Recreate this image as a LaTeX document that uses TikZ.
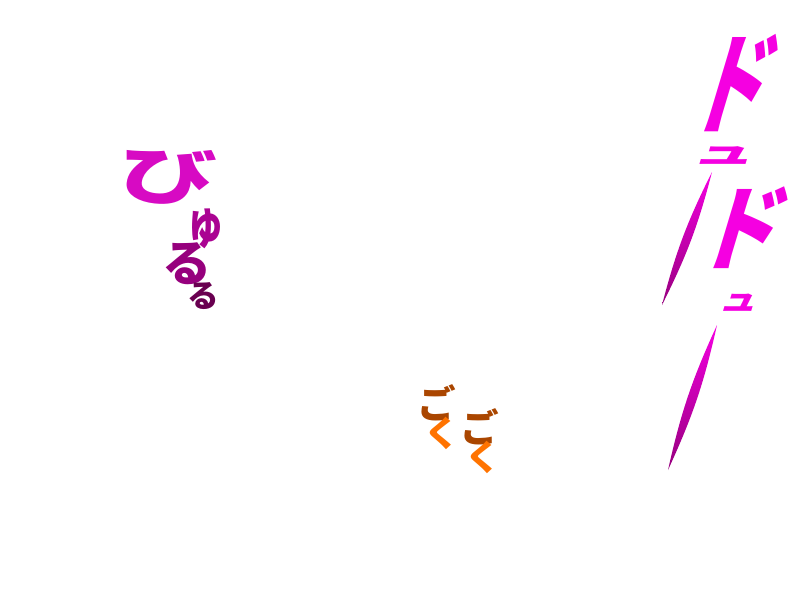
\documentclass[tikz,border=0pt]{standalone}
\usepackage{fontspec}
\usetikzlibrary{positioning}
\newfontfamily\jpfont{Noto Sans CJK JP}
\definecolor{brightmag}{RGB}{245,0,225}
\definecolor{midmag}{RGB}{215,10,195}
\definecolor{deepmag}{RGB}{150,0,125}
\definecolor{darkplum}{RGB}{105,0,80}
\definecolor{rust}{RGB}{170,70,0}
\definecolor{brightorange}{RGB}{255,115,0}
\tikzset{%
  % Specifications for style of the sound effects:
        sfx/.style = {inner sep=0pt, font=\jpfont\bfseries},
     byuru/.style = {sfx, text=midmag},
      goku/.style = {sfx},
       dyu/.style = {sfx, text=brightmag, xslant=0.3},
  swoosh/.style = {top color=brightmag, bottom color=deepmag, draw=none},
}
\begin{document}
\begin{tikzpicture}
  \useasboundingbox (0,0) rectangle (8,6);
  % left column
  \node (bi)    [byuru, rotate=-6, xscale=1.3, yscale=0.85] at (1.68,4.24) {\fontsize{21}{21}\selectfont び};
  \node (yu)    [byuru, text=deepmag!70!midmag, yscale=1.4] at (2.06,3.71) {\fontsize{11}{11}\selectfont ゅ};
  \node (ru)    [byuru, text=deepmag] at (1.87,3.36) {\fontsize{14}{14}\selectfont る};
  \node (rusm)  [byuru, text=darkplum] at (2.03,3.04) {\fontsize{9}{9}\selectfont る};

  % middle, two small ones
  \node (go1)   [goku, text=rust] at (4.37,1.97) {\fontsize{11}{11}\selectfont ご};
  \node (ku1)   [goku, text=brightorange, below=-1.5pt of go1, xshift=1.5pt] {\fontsize{10}{10}\selectfont く};
  \node (go2)   [goku, text=rust] at (4.80,1.73) {\fontsize{11}{11}\selectfont ご};
  \node (ku2)   [goku, text=brightorange, below=-1.5pt of go2, xshift=1pt] {\fontsize{10}{10}\selectfont く};

  % right column
  \node (do1)   [dyu, yscale=1.5] at (7.37,5.17) {\fontsize{21}{21}\selectfont ド};
  \node (yusm1) [dyu, yscale=0.5] at (7.26,4.44) {\fontsize{18}{18}\selectfont ュ};
  \node (do2)   [dyu, yscale=1.15] at (7.45,3.72) {\fontsize{23}{23}\selectfont ド};
  \node (yusm2) [dyu, yscale=0.8] at (7.40,2.97) {\fontsize{11}{11}\selectfont ュ};

  \coordinate (s1top) at (7.12,4.28);
  \coordinate (s1bot) at (6.62,2.95);
  \coordinate (s2top) at (7.17,2.75);
  \coordinate (s2bot) at (6.68,1.30);
  \shade[swoosh] (s1top) to[bend left=6] (s1bot) to[bend left=6] (s1top);
  \shade[swoosh] (s2top) to[bend left=6] (s2bot) to[bend left=6] (s2top);
\end{tikzpicture}
\end{document}
